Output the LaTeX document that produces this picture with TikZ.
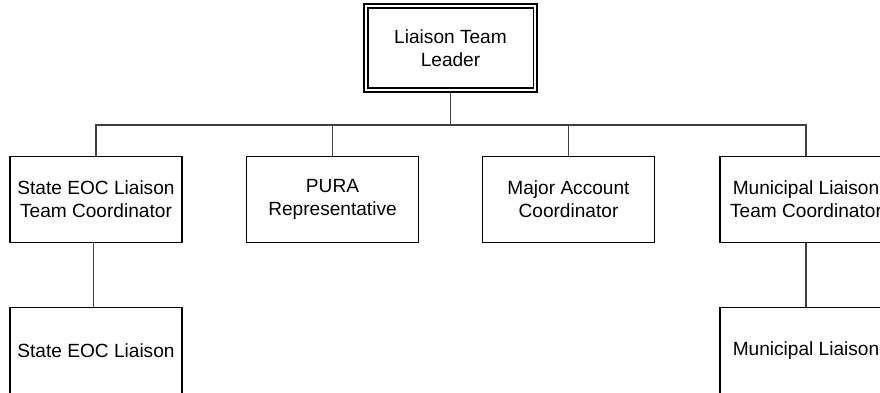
\documentclass[tikz,border=0pt]{standalone}
\usepackage{fontspec}
\setmainfont{Liberation Sans}
\begin{document}
\begin{tikzpicture}[x=1pt,y=-1pt,
  box/.style={draw=black, line width=1.8pt, minimum width=172pt, minimum height=86pt, inner sep=0pt, align=center, font=\fontsize{19.1}{23}\selectfont},
  conn/.style={draw=black!75, line width=1.1pt}]
\useasboundingbox (0,0) rectangle (880,393);
\clip (0,0) rectangle (880,393);
\fill[white] (0,0) rectangle (880,393);
% top box
\node[box, line width=2pt, minimum width=173pt, minimum height=88pt] (top) at (450.5,48) {Liaison Team\\Leader};
\draw[line width=1.6pt] ([xshift=5pt,yshift=-5pt]top.north west) rectangle ([xshift=-4.5pt,yshift=5pt]top.south east);
% level 2
\node[box] (c1) at (96,199.5) {State EOC Liaison\\Team Coordinator};
\node[box] (c2) at (332.5,199.5) {PURA\\Representative};
\node[box] (c3) at (568.5,199.5) {Major Account\\Coordinator};
\node[box] (c4) at (806,199.5) {Municipal Liaison\\Team Coordinator};
% level 3
\node[box] (d1) at (96,350.5) {State EOC Liaison};
\node[box] (d4) at (806,350.5) {Municipal Liaison};
% connectors
\coordinate (bus) at (450.5,125);
\draw[conn] (top.south) -- (bus);
\draw[conn] (c1.north) |- (bus) -| (c4.north);
\draw[conn] (c2.north) -- (c2.north |- bus);
\draw[conn] (c3.north) -- (c3.north |- bus);
\draw[conn] ([xshift=-2.5pt]c1.south) -- ([xshift=-2.5pt]d1.north);
\draw[conn] (c4.south) -- (d4.north);
\end{tikzpicture}
\end{document}
